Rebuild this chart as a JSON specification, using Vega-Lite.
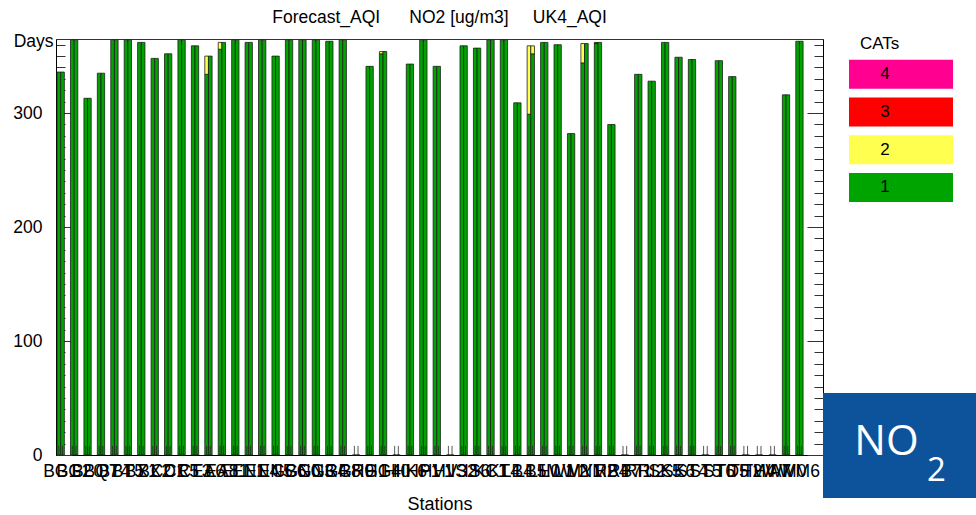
{
  "$schema": "https://vega.github.io/schema/vega-lite/v6.json",
  "background": "white",
  "padding": {"left": 12, "top": 8, "right": 0, "bottom": 2},
  "bounds": "flush",
  "spacing": 0,
  "config": {
    "font": "Liberation Sans",
    "view": {"stroke": null},
    "axis": {"labelFont": "Liberation Sans", "titleFont": "Liberation Sans", "labelColor": "#000", "titleColor": "#000", "titleFontWeight": "normal", "domainColor": "#000", "tickColor": "#333"},
    "title": {"font": "Liberation Sans", "fontWeight": "normal", "color": "#000"}
  },
  "hconcat": [
    {
      "width": 767,
      "height": 416,
      "view": {"stroke": "#333", "strokeWidth": 1},
      "title": {"text": "Forecast_AQI\u00a0\u00a0\u00a0\u00a0\u00a0\u00a0NO2 [ug/m3]\u00a0\u00a0\u00a0\u00a0\u00a0UK4_AQI", "fontSize": 17.5, "frame": "group", "anchor": "middle", "baseline": "alphabetic", "offset": -8},
      "data": {"values": [
        {"st": "BG1", "src": "Forecast", "cat": "1", "days": 336}, {"st": "BG1", "src": "UK4", "cat": "1", "days": 336},
        {"st": "BG2", "src": "Forecast", "cat": "1", "days": 364}, {"st": "BG2", "src": "UK4", "cat": "1", "days": 364},
        {"st": "BL0", "src": "Forecast", "cat": "1", "days": 313}, {"st": "BL0", "src": "UK4", "cat": "1", "days": 313},
        {"st": "BQ7", "src": "Forecast", "cat": "1", "days": 335}, {"st": "BQ7", "src": "UK4", "cat": "1", "days": 335},
        {"st": "BT4", "src": "Forecast", "cat": "1", "days": 364}, {"st": "BT4", "src": "UK4", "cat": "1", "days": 364},
        {"st": "BT5", "src": "Forecast", "cat": "1", "days": 364}, {"st": "BT5", "src": "UK4", "cat": "1", "days": 364},
        {"st": "BX1", "src": "Forecast", "cat": "1", "days": 362}, {"st": "BX1", "src": "UK4", "cat": "1", "days": 362},
        {"st": "BX2", "src": "Forecast", "cat": "1", "days": 348}, {"st": "BX2", "src": "UK4", "cat": "1", "days": 348},
        {"st": "CD1", "src": "Forecast", "cat": "1", "days": 352}, {"st": "CD1", "src": "UK4", "cat": "1", "days": 352},
        {"st": "CR5", "src": "Forecast", "cat": "1", "days": 364}, {"st": "CR5", "src": "UK4", "cat": "1", "days": 364},
        {"st": "CT3", "src": "Forecast", "cat": "1", "days": 359}, {"st": "CT3", "src": "UK4", "cat": "1", "days": 359},
        {"st": "EA6", "src": "Forecast", "cat": "1", "days": 334}, {"st": "EA6", "src": "Forecast", "cat": "2", "days": 16}, {"st": "EA6", "src": "UK4", "cat": "1", "days": 350},
        {"st": "EA8", "src": "Forecast", "cat": "1", "days": 356}, {"st": "EA8", "src": "Forecast", "cat": "2", "days": 6}, {"st": "EA8", "src": "UK4", "cat": "1", "days": 362},
        {"st": "EI1", "src": "Forecast", "cat": "1", "days": 364}, {"st": "EI1", "src": "UK4", "cat": "1", "days": 364},
        {"st": "EN1", "src": "Forecast", "cat": "1", "days": 362}, {"st": "EN1", "src": "UK4", "cat": "1", "days": 362},
        {"st": "EN4", "src": "Forecast", "cat": "1", "days": 364}, {"st": "EN4", "src": "UK4", "cat": "1", "days": 364},
        {"st": "EN5", "src": "Forecast", "cat": "1", "days": 350}, {"st": "EN5", "src": "UK4", "cat": "1", "days": 350},
        {"st": "GB6", "src": "Forecast", "cat": "1", "days": 364}, {"st": "GB6", "src": "UK4", "cat": "1", "days": 364},
        {"st": "GN0", "src": "Forecast", "cat": "1", "days": 364}, {"st": "GN0", "src": "UK4", "cat": "1", "days": 364},
        {"st": "GN3", "src": "Forecast", "cat": "1", "days": 364}, {"st": "GN3", "src": "UK4", "cat": "1", "days": 364},
        {"st": "GR4", "src": "Forecast", "cat": "1", "days": 363}, {"st": "GR4", "src": "UK4", "cat": "1", "days": 363},
        {"st": "GR8", "src": "Forecast", "cat": "1", "days": 364}, {"st": "GR8", "src": "UK4", "cat": "1", "days": 364},
        {"st": "GR9", "src": "Forecast", "cat": "1", "days": 0}, {"st": "GR9", "src": "UK4", "cat": "1", "days": 0},
        {"st": "HG1", "src": "Forecast", "cat": "1", "days": 341}, {"st": "HG1", "src": "UK4", "cat": "1", "days": 341},
        {"st": "HG4", "src": "Forecast", "cat": "1", "days": 352}, {"st": "HG4", "src": "Forecast", "cat": "2", "days": 2}, {"st": "HG4", "src": "UK4", "cat": "1", "days": 354},
        {"st": "HI0", "src": "Forecast", "cat": "1", "days": 0}, {"st": "HI0", "src": "UK4", "cat": "1", "days": 0},
        {"st": "HK6", "src": "Forecast", "cat": "1", "days": 343}, {"st": "HK6", "src": "UK4", "cat": "1", "days": 343},
        {"st": "HP1", "src": "Forecast", "cat": "1", "days": 364}, {"st": "HP1", "src": "UK4", "cat": "1", "days": 364},
        {"st": "HV1", "src": "Forecast", "cat": "1", "days": 341}, {"st": "HV1", "src": "UK4", "cat": "1", "days": 341},
        {"st": "HV3", "src": "Forecast", "cat": "1", "days": 0}, {"st": "HV3", "src": "UK4", "cat": "1", "days": 0},
        {"st": "IS2", "src": "Forecast", "cat": "1", "days": 359}, {"st": "IS2", "src": "UK4", "cat": "1", "days": 359},
        {"st": "IS6", "src": "Forecast", "cat": "1", "days": 357}, {"st": "IS6", "src": "UK4", "cat": "1", "days": 357},
        {"st": "KC1", "src": "Forecast", "cat": "1", "days": 364}, {"st": "KC1", "src": "UK4", "cat": "1", "days": 364},
        {"st": "KT4", "src": "Forecast", "cat": "1", "days": 364}, {"st": "KT4", "src": "UK4", "cat": "1", "days": 364},
        {"st": "LB4", "src": "Forecast", "cat": "1", "days": 309}, {"st": "LB4", "src": "UK4", "cat": "1", "days": 309},
        {"st": "LB5", "src": "Forecast", "cat": "1", "days": 299}, {"st": "LB5", "src": "Forecast", "cat": "2", "days": 60}, {"st": "LB5", "src": "UK4", "cat": "1", "days": 352}, {"st": "LB5", "src": "UK4", "cat": "2", "days": 7},
        {"st": "LH0", "src": "Forecast", "cat": "1", "days": 362}, {"st": "LH0", "src": "UK4", "cat": "1", "days": 362},
        {"st": "LW1", "src": "Forecast", "cat": "1", "days": 360}, {"st": "LW1", "src": "UK4", "cat": "1", "days": 360},
        {"st": "LW2", "src": "Forecast", "cat": "1", "days": 282}, {"st": "LW2", "src": "UK4", "cat": "1", "days": 282},
        {"st": "MY1", "src": "Forecast", "cat": "1", "days": 344}, {"st": "MY1", "src": "Forecast", "cat": "2", "days": 17}, {"st": "MY1", "src": "UK4", "cat": "1", "days": 361},
        {"st": "NM2", "src": "Forecast", "cat": "1", "days": 361}, {"st": "NM2", "src": "Forecast", "cat": "3", "days": 1}, {"st": "NM2", "src": "UK4", "cat": "1", "days": 362},
        {"st": "RB4", "src": "Forecast", "cat": "1", "days": 290}, {"st": "RB4", "src": "UK4", "cat": "1", "days": 290},
        {"st": "RB7", "src": "Forecast", "cat": "1", "days": 0}, {"st": "RB7", "src": "UK4", "cat": "1", "days": 0},
        {"st": "RI1", "src": "Forecast", "cat": "1", "days": 334}, {"st": "RI1", "src": "UK4", "cat": "1", "days": 334},
        {"st": "RI2", "src": "Forecast", "cat": "1", "days": 328}, {"st": "RI2", "src": "UK4", "cat": "1", "days": 328},
        {"st": "SK5", "src": "Forecast", "cat": "1", "days": 362}, {"st": "SK5", "src": "UK4", "cat": "1", "days": 362},
        {"st": "SK6", "src": "Forecast", "cat": "1", "days": 349}, {"st": "SK6", "src": "UK4", "cat": "1", "days": 349},
        {"st": "ST4", "src": "Forecast", "cat": "1", "days": 347}, {"st": "ST4", "src": "UK4", "cat": "1", "days": 347},
        {"st": "ST5", "src": "Forecast", "cat": "1", "days": 0}, {"st": "ST5", "src": "UK4", "cat": "1", "days": 0},
        {"st": "ST6", "src": "Forecast", "cat": "1", "days": 346}, {"st": "ST6", "src": "UK4", "cat": "1", "days": 346},
        {"st": "TD5", "src": "Forecast", "cat": "1", "days": 332}, {"st": "TD5", "src": "UK4", "cat": "1", "days": 332},
        {"st": "TH2", "src": "Forecast", "cat": "1", "days": 0}, {"st": "TH2", "src": "UK4", "cat": "1", "days": 0},
        {"st": "TH4", "src": "Forecast", "cat": "1", "days": 0}, {"st": "TH4", "src": "UK4", "cat": "1", "days": 0},
        {"st": "WA7", "src": "Forecast", "cat": "1", "days": 0}, {"st": "WA7", "src": "UK4", "cat": "1", "days": 0},
        {"st": "WM0", "src": "Forecast", "cat": "1", "days": 316}, {"st": "WM0", "src": "UK4", "cat": "1", "days": 316},
        {"st": "WM6", "src": "Forecast", "cat": "1", "days": 363}, {"st": "WM6", "src": "UK4", "cat": "1", "days": 363}
      ]},
      "encoding": {
        "x": {
          "field": "st", "type": "nominal", "sort": null,
          "scale": {"paddingInner": 0.456, "paddingOuter": 0.78, "align": 0.05},
          "axis": {"title": "Stations", "titleFontSize": 18, "titlePadding": 16, "labelAngle": 0, "labelOverlap": false, "labelFontSize": 17.5, "labelPadding": 7, "ticks": false, "domainWidth": 1}
        },
        "xOffset": {"field": "src", "type": "nominal", "scale": {"domain": ["Forecast", "UK4"], "paddingInner": 0, "paddingOuter": 0}}
      },
      "layer": [
        {
          "mark": {"type": "bar", "stroke": "#1e1e1e", "strokeWidth": 0.8},
          "encoding": {
            "y": {
              "field": "days", "type": "quantitative", "stack": "zero",
              "scale": {"domain": [0, 365], "nice": false},
              "axis": {
                "orient": "left",
                "values": [0, 10, 20, 30, 40, 50, 60, 70, 80, 90, 100, 110, 120, 130, 140, 150, 160, 170, 180, 190, 200, 210, 220, 230, 240, 250, 260, 270, 280, 290, 300, 310, 320, 330, 340, 350, 360],
                "tickSize": {"condition": {"test": "datum.value % 100 === 0", "value": -16}, "value": -9},
                "labelExpr": "datum.value % 100 === 0 ? datum.label : ''",
                "labelOverlap": false,
                "labelPadding": 30,
                "labelFontSize": 17.5,
                "grid": false,
                "title": "Days", "titleFontSize": 17.5, "titleAngle": 0, "titleAlign": "right", "titleBaseline": "alphabetic", "titleX": -3, "titleY": 7
              }
            },
            "color": {
              "field": "cat", "type": "nominal",
              "scale": {"domain": ["1", "2", "3", "4"], "range": ["#00a400", "#ffff50", "#ff0000", "#ff0090"]},
              "legend": null
            },
            "order": {"field": "cat", "type": "ordinal", "sort": "ascending"}
          }
        },
        {
          "transform": [{"filter": "datum.cat === '1'"}],
          "mark": {"type": "rule", "color": "#222", "strokeWidth": 1, "opacity": 0.75},
          "encoding": {
            "y": {
              "datum": 0, "type": "quantitative",
              "axis": {
                "orient": "right",
                "values": [0, 10, 20, 30, 40, 50, 60, 70, 80, 90, 100, 110, 120, 130, 140, 150, 160, 170, 180, 190, 200, 210, 220, 230, 240, 250, 260, 270, 280, 290, 300, 310, 320, 330, 340, 350, 360],
                "tickSize": {"condition": {"test": "datum.value % 100 === 0", "value": -16}, "value": -9},
                "labels": false,
                "grid": false,
                "title": null
              }
            },
            "y2": {"datum": 8}
          }
        }
      ],
      "resolve": {"axis": {"y": "independent"}}
    },
    {
      "bounds": "flush",
      "spacing": 191,
      "vconcat": [
        {
          "width": 154,
          "height": 163,
          "title": {"text": "CATs", "fontSize": 17, "frame": "group", "anchor": "start", "dx": 37, "baseline": "alphabetic", "offset": -27.4},
          "data": {"values": [{"cat": "4"}, {"cat": "3"}, {"cat": "2"}, {"cat": "1"}]},
          "encoding": {
            "y": {"field": "cat", "type": "nominal", "scale": {"domain": ["4", "3", "2", "1"], "paddingInner": 0.23, "paddingOuter": 0.274, "align": 1}, "axis": null},
            "x": {"datum": "swatch", "type": "nominal", "scale": {"paddingInner": 0, "paddingOuter": 0.2404, "align": 0.52}, "axis": null}
          },
          "layer": [
            {
              "mark": {"type": "rect"},
              "encoding": {
                "color": {
                  "field": "cat", "type": "nominal",
                  "scale": {"domain": ["1", "2", "3", "4"], "range": ["#00a400", "#ffff50", "#ff0000", "#ff0090"]},
                  "legend": null
                }
              }
            },
            {
              "mark": {"type": "text", "fontSize": 17, "dx": -16, "color": "#000"},
              "encoding": {"text": {"field": "cat"}}
            }
          ]
        },
        {
          "width": 154,
          "height": 105,
          "view": {"fill": "#0d539b", "stroke": null},
          "data": {"values": [{"gas": "NO", "sub": "2"}]},
          "layer": [
            {
              "mark": {"type": "text", "font": "Open Sans", "fontSize": 42, "color": "#ffffff", "baseline": "alphabetic", "dx": -13.5, "dy": 9.5},
              "encoding": {"text": {"field": "gas"}}
            },
            {
              "mark": {"type": "text", "font": "Open Sans", "fontSize": 33, "color": "#ffffff", "baseline": "alphabetic", "dx": 36.5, "dy": 35.5},
              "encoding": {"text": {"field": "sub"}}
            }
          ]
        }
      ]
    }
  ]
}
